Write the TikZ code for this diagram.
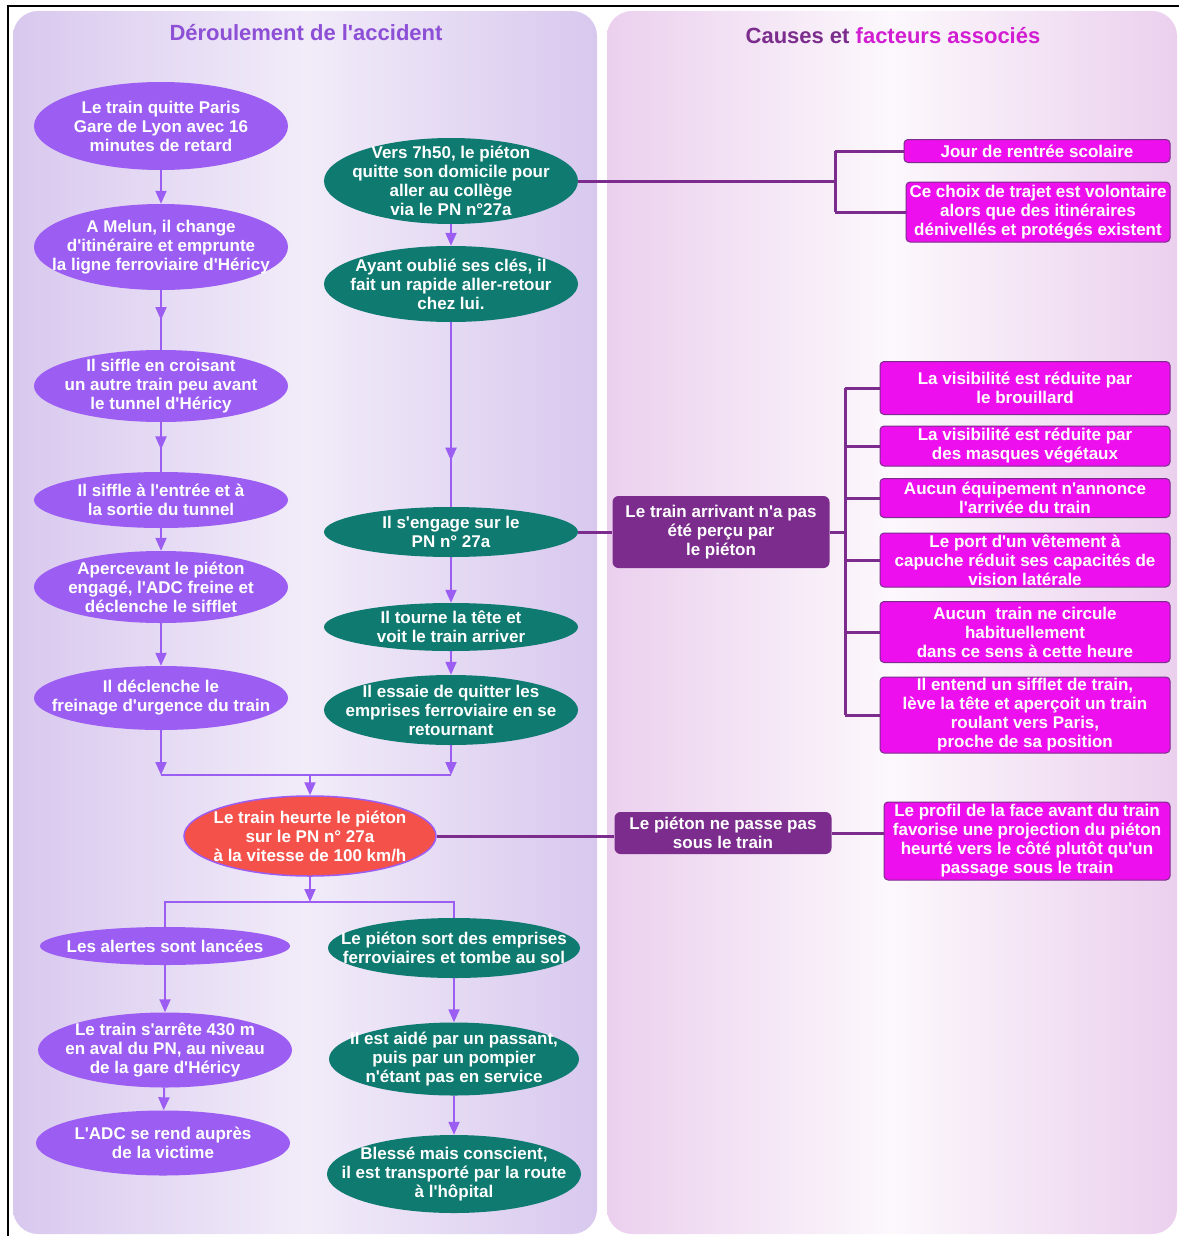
\documentclass[tikz,border=0pt]{standalone}
\usepackage{fontspec}
\newfontfamily\diagfont{Liberation Sans}
\usetikzlibrary{shapes.geometric,arrows.meta,decorations.markings}

\definecolor{evtviolet}{HTML}{9B5DF2}
\definecolor{pedteal}{HTML}{0E7A70}
\definecolor{hitred}{HTML}{F4514B}
\definecolor{causeplum}{HTML}{7B2C8C}
\definecolor{factormag}{HTML}{EE0FEE}
\definecolor{titleviolet}{HTML}{8C4FD6}
\definecolor{titlemag}{HTML}{D21ED2}
\definecolor{leftedge}{HTML}{D8C8EE}
\definecolor{leftmid}{HTML}{F2ECF9}
\definecolor{rightedge}{HTML}{EBD0EE}
\definecolor{rightmid}{HTML}{FCF8FC}

\newcommand{\boxfont}{\diagfont\fontsize{17}{19}\selectfont\bfseries}
\newcommand{\titlefont}{\diagfont\fontsize{22}{26}\selectfont\bfseries}

\tikzset{
  evt/.style={ellipse, fill=evtviolet, text=white, align=center, font=\boxfont,
    inner xsep=-45pt, inner ysep=-12pt, minimum width=254pt},
  ped/.style={evt, fill=pedteal},
  hit/.style={evt, fill=hitred, draw=evtviolet, line width=1.5pt},
  cause/.style={rectangle, rounded corners=6pt, fill=causeplum, text=white, align=center,
    font=\boxfont, inner sep=0pt, minimum width=217pt},
  factor/.style={rectangle, rounded corners=4pt, fill=factormag, draw=causeplum, line width=1pt,
    text=white, align=center, font=\boxfont, inner sep=0pt, minimum width=290pt},
  flow/.style={color=evtviolet, line width=2pt, -{Triangle[width=11pt,length=13pt]}},
  midflow/.style={color=evtviolet, line width=2pt, postaction={decorate},
    decoration={markings, mark=at position #1 with {\arrow{Triangle[width=11pt,length=13pt]}}}},
  branch/.style={color=evtviolet, line width=2pt},
  link/.style={color=causeplum, line width=3pt}
}

\begin{document}
\begin{tikzpicture}[x=1pt,y=-1pt]
        \useasboundingbox (0,0) rectangle (1179,1236);

        % Panels
        \shade[rounded corners=25pt, left color=leftedge, right color=leftedge, middle color=leftmid] (13,11) rectangle (597,1234);  % accident
        \shade[rounded corners=25pt, left color=rightedge, right color=rightedge, middle color=rightmid] (607,11) rectangle (1177,1234);  % causes
        \draw[line width=1.2pt] (8,1236) -- (8,6) -- (1179,6);  % frame

        % Titles
        \node[font=\titlefont, text=titleviolet] (titreg) at (306,33) {Déroulement de l'accident};
        \node[font=\titlefont, text=causeplum] (titred) at (893,36) {Causes et \textcolor{titlemag}{facteurs associés}};

        % Train
        \node[evt, minimum height=88pt] (depart) at (161,126) {Le train quitte Paris\\Gare de Lyon avec 16\\minutes de retard};
        \node[evt, minimum height=86pt] (melun) at (161,247) {A Melun, il change\\d'itinéraire et emprunte\\la ligne ferroviaire d'Héricy};
        \node[evt, minimum height=72pt] (croise) at (161,386) {Il siffle en croisant\\un autre train peu avant\\le tunnel d'Héricy};
        \node[evt, minimum height=56pt] (tunnel) at (161,500) {Il siffle à l'entrée et à\\la sortie du tunnel};
        \node[evt, minimum height=72pt] (freine) at (161,587) {Apercevant le piéton\\engagé, l'ADC freine et\\déclenche le sifflet};
        \node[evt, minimum height=64pt] (urgence) at (161,698) {Il déclenche le\\freinage d'urgence du train};

        % Pedestrian
        \node[ped, minimum height=86pt] (domicile) at (451,181) {Vers 7h50, le piéton\\quitte son domicile pour\\aller au collège\\via le PN n°27a};
        \node[ped, minimum height=76pt] (cles) at (451,284) {Ayant oublié ses clés, il\\fait un rapide aller-retour\\chez lui.};
        \node[ped, minimum height=50pt] (engage) at (451,532) {Il s'engage sur le\\PN n° 27a};
        \node[ped, minimum height=48pt] (tete) at (451,627) {Il tourne la tête et\\voit le train arriver};
        \node[ped, minimum height=70pt] (retour) at (451,710) {Il essaie de quitter les\\emprises ferroviaire en se\\retournant};

        % Collision
        \coordinate (jointop) at (310,775);
        \node[hit, minimum width=252pt, minimum height=80pt] (heurt) at (310,836) {Le train heurte le piéton\\sur le PN n° 27a\\à la vitesse de 100 km/h};
        \coordinate (joinbot) at (310,902);

        % After
        \node[evt, minimum width=250pt, minimum height=38pt] (alertes) at (165,946) {Les alertes sont lancées};
        \node[evt, minimum height=75pt] (arret) at (165,1050) {Le train s'arrête 430 m\\en aval du PN, au niveau\\de la gare d'Héricy};
        \node[evt, minimum height=65pt] (victime) at (163,1143) {L'ADC se rend auprès\\de la victime};
        \node[ped, minimum width=252pt, minimum height=60pt] (sortie) at (454,948) {Le piéton sort des emprises\\ferroviaires et tombe au sol};
        \node[ped, minimum width=250pt, minimum height=73pt] (aide) at (454,1059) {Il est aidé par un passant,\\puis par un pompier\\n'étant pas en service};
        \node[ped, minimum height=78pt] (hopital) at (454,1174) {Blessé mais conscient,\\il est transporté par la route\\à l'hôpital};

        % Causes
        \node[cause, minimum height=72pt] (nonpercu) at (721,532) {Le train arrivant n'a pas\\été perçu par\\le piéton};
        \node[cause, minimum height=42pt] (nonpasse) at (723,833) {Le piéton ne passe pas\\sous le train};

        % Factors
        \node[factor, minimum width=266pt, minimum height=23pt] (rentree) at (1037,151) {Jour de rentrée scolaire};
        \node[factor, minimum width=264pt, minimum height=60pt] (trajet) at (1038,212) {Ce choix de trajet est volontaire\\alors que des itinéraires\\dénivellés et protégés existent};
        \node[factor, minimum height=53pt] (brouillard) at (1025,388) {La visibilité est réduite par\\le brouillard};
        \node[factor, minimum height=40pt] (vegetaux) at (1025,446) {La visibilité est réduite par\\des masques végétaux};
        \node[factor, minimum height=39pt] (equipement) at (1025,498) {Aucun équipement n'annonce\\l'arrivée du train};
        \node[factor, minimum height=54pt] (capuche) at (1025,560) {Le port d'un vêtement à\\capuche réduit ses capacités de\\vision latérale};
        \node[factor, minimum height=61pt] (sens) at (1025,632) {Aucun~ train ne circule\\habituellement\\dans ce sens à cette heure};
        \node[factor, minimum height=76pt] (sifflet) at (1025,715) {Il entend un sifflet de train,\\lève la tête et aperçoit un train\\roulant vers Paris,\\proche de sa position};
        \node[factor, minimum width=286pt, minimum height=78pt] (profil) at (1027,841) {Le profil de la face avant du train\\favorise une projection du piéton\\heurté vers le côté plutôt qu'un\\passage sous le train};

        % Flow arrows
        \draw[flow] (depart) -- (melun);
        \draw[midflow=0.5] (melun) -- (croise);
        \draw[midflow=0.55] (croise) -- (tunnel);
        \draw[flow] (tunnel) -- (freine);
        \draw[flow] (freine) -- (urgence);
        \draw[flow] (domicile) -- (cles);
        \draw[midflow=0.75] (cles) -- (engage);
        \draw[flow] (engage) -- (tete);
        \draw[flow] (tete) -- (retour);
        \draw[flow] (urgence) -- (urgence |- jointop);
        \draw[flow] (retour) -- (retour |- jointop);
        \draw[branch] (urgence |- jointop) -- (retour |- jointop);
        \draw[flow] (jointop) -- (heurt);
        \draw[flow] (heurt) -- (joinbot);
        \draw[branch] (alertes) |- (joinbot) -| (sortie);
        \draw[flow] (alertes) -- (arret);
        \draw[flow] (arret) -- (victime);
        \draw[flow] (sortie) -- (aide);
        \draw[flow] (aide) -- (hopital);

        % Cause links
        \coordinate (bj) at (835,181);
        \draw[link] (domicile) -- (bj);
        \draw[link] (bj |- rentree) -- (bj |- trajet);
        \draw[link] (bj |- rentree) -- (rentree);
        \draw[link] (bj |- trajet) -- (trajet);
        \coordinate (bp) at (845,532);
        \draw[link] (engage) -- (nonpercu);
        \draw[link] (nonpercu) -- (bp);
        \draw[link] (bp |- brouillard) -- (bp |- sifflet);
        \foreach \f in {brouillard,vegetaux,equipement,capuche,sens,sifflet}
            \draw[link] (bp |- \f) -- (\f);
        \draw[link] (heurt.east) -- (heurt.east -| nonpasse.west);
        \draw[link] (nonpasse.east) -- (nonpasse.east -| profil.west);
\end{tikzpicture}
\end{document}
